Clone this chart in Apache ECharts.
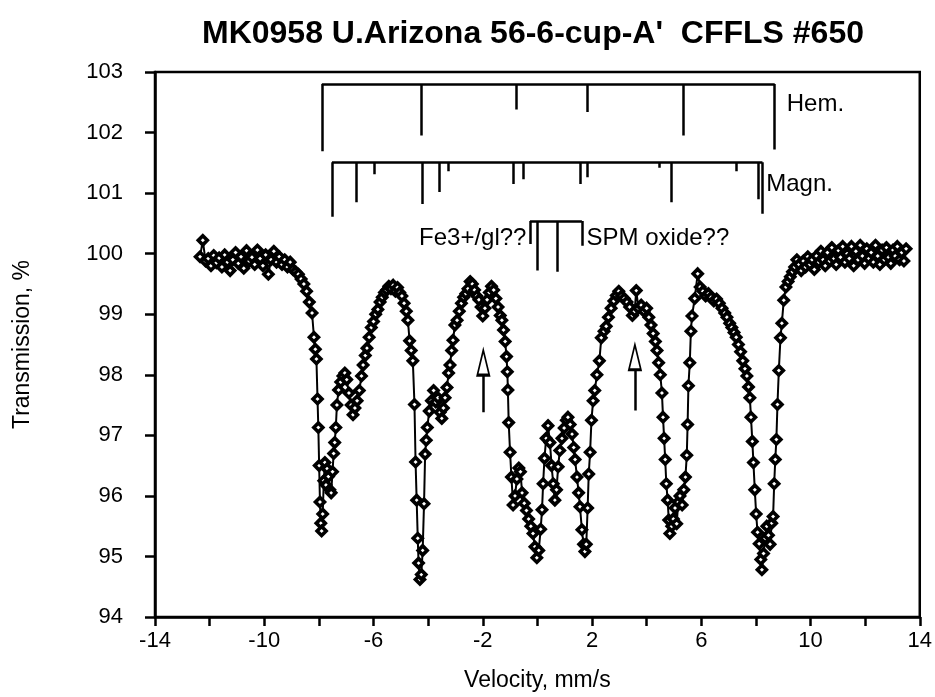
<!DOCTYPE html>
<html>
<head>
<meta charset="utf-8">
<script src="https://cdn.jsdelivr.net/npm/echarts@6/dist/echarts.min.js"></script>
<style>
  html, body { margin: 0; padding: 0; background: #fff; }
  #chart { width: 935px; height: 697px; }
</style>
</head>
<body>
<div id="chart"></div>
<script>
// velocity (mm/s), transmission (%), left to right
const baselineLeft = [
  [-12.35, 99.95], [-12.25, 100.22], [-12.15, 99.88], [-12.05, 99.92], [-11.95, 99.80],
  [-11.85, 99.97], [-11.75, 99.85], [-11.65, 99.93], [-11.55, 99.78], [-11.45, 99.98],
  [-11.35, 99.86], [-11.25, 99.72], [-11.15, 99.90], [-11.05, 100.02], [-10.95, 99.84],
  [-10.85, 99.95], [-10.75, 99.76], [-10.65, 100.05], [-10.55, 99.88], [-10.45, 99.94],
  [-10.35, 99.82], [-10.25, 100.06], [-10.15, 99.92], [-10.05, 99.80], [-9.95, 99.98],
  [-9.85, 99.66], [-9.75, 99.90], [-9.65, 100.04], [-9.55, 99.86], [-9.45, 99.95],
  [-9.35, 99.82], [-9.25, 99.90], [-9.15, 99.78], [-9.05, 99.86], [-8.95, 99.74],
  [-8.85, 99.70], [-8.75, 99.66], [-8.65, 99.58], [-8.55, 99.50], [-8.45, 99.38]
]
const leftPeaks = [
  [-8.35, 99.20], [-8.25, 99.02], [-8.18, 98.62], [-8.13, 98.42], [-8.09, 98.26],
  [-8.05, 97.60], [-8.02, 97.13], [-7.99, 96.50], [-7.96, 95.90], [-7.93, 95.55],
  [-7.90, 95.42], [-7.86, 95.70], [-7.82, 96.25], [-7.78, 96.55], [-7.74, 96.18],
  [-7.70, 96.45], [-7.65, 96.32], [-7.60, 96.10], [-7.55, 96.05], [-7.50, 96.40],
  [-7.46, 96.70], [-7.42, 96.88], [-7.38, 97.13], [-7.34, 97.50], [-7.28, 97.75],
  [-7.20, 97.88], [-7.12, 97.98], [-7.05, 98.03], [-6.98, 97.92], [-6.90, 97.70],
  [-6.82, 97.50], [-6.75, 97.34], [-6.68, 97.45], [-6.60, 97.57], [-6.52, 97.74],
  [-6.44, 97.98], [-6.38, 98.16], [-6.30, 98.32], [-6.24, 98.44], [-6.16, 98.62],
  [-6.08, 98.78], [-6.00, 98.88], [-5.92, 99.00], [-5.84, 99.08], [-5.76, 99.20],
  [-5.68, 99.28], [-5.60, 99.36], [-5.52, 99.40], [-5.44, 99.46], [-5.36, 99.42],
  [-5.28, 99.48], [-5.20, 99.38], [-5.12, 99.44], [-5.04, 99.36], [-4.96, 99.30],
  [-4.88, 99.18], [-4.80, 99.05], [-4.74, 98.90], [-4.68, 98.56], [-4.62, 98.40],
  [-4.56, 98.23], [-4.50, 97.51], [-4.46, 96.56], [-4.42, 95.93], [-4.38, 95.30],
  [-4.35, 94.89], [-4.30, 94.62], [-4.25, 94.70], [-4.20, 95.10], [-4.15, 95.87],
  [-4.11, 96.69], [-4.07, 96.92], [-4.03, 97.13], [-3.96, 97.40], [-3.88, 97.57],
  [-3.80, 97.74], [-3.72, 97.55], [-3.64, 97.62], [-3.56, 97.38], [-3.50, 97.28],
  [-3.44, 97.45], [-3.38, 97.62], [-3.31, 97.79], [-3.25, 98.03], [-3.20, 98.16],
  [-3.14, 98.40], [-3.09, 98.57], [-3.02, 98.82], [-2.94, 98.90], [-2.86, 99.05],
  [-2.78, 99.18], [-2.70, 99.28], [-2.62, 99.34], [-2.54, 99.42], [-2.46, 99.54],
  [-2.38, 99.50], [-2.30, 99.40], [-2.22, 99.30], [-2.14, 99.24], [-2.06, 99.12],
  [-2.00, 98.97], [-1.92, 99.10], [-1.84, 99.24], [-1.76, 99.36], [-1.68, 99.46],
  [-1.60, 99.40], [-1.52, 99.26], [-1.44, 99.12], [-1.36, 98.98], [-1.30, 98.90],
  [-1.24, 98.74], [-1.18, 98.55], [-1.13, 98.30], [-1.10, 98.05], [-1.08, 97.75]
]
const centrePeaks = [
  [-1.05, 97.21], [-1.00, 96.72], [-0.95, 96.31], [-0.89, 95.85], [-0.82, 96.00],
  [-0.75, 96.28], [-0.68, 96.46], [-0.62, 96.40], [-0.56, 96.05], [-0.48, 95.88],
  [-0.40, 95.76], [-0.32, 95.62], [-0.24, 95.50], [-0.16, 95.38], [-0.09, 95.16],
  [-0.02, 94.98], [0.05, 95.10], [0.12, 95.45], [0.17, 95.77], [0.21, 96.20],
  [0.26, 96.62], [0.32, 96.95], [0.39, 97.16], [0.46, 96.88], [0.52, 96.50],
  [0.58, 96.20], [0.64, 95.93], [0.70, 96.10], [0.76, 96.48], [0.82, 96.75],
  [0.90, 96.95], [0.98, 97.12], [1.06, 97.25], [1.12, 97.30], [1.20, 97.18],
  [1.27, 97.02], [1.33, 96.80], [1.38, 96.60], [1.45, 96.31], [1.51, 96.05],
  [1.56, 95.82], [1.63, 95.44], [1.69, 95.20], [1.74, 95.08], [1.79, 95.20],
  [1.84, 95.80], [1.88, 96.36], [1.93, 96.72], [1.98, 97.25], [2.04, 97.57]
]
const rightPeaks = [
  [2.10, 97.74], [2.18, 98.00], [2.27, 98.23], [2.34, 98.61], [2.44, 98.72],
  [2.52, 98.80], [2.60, 98.95], [2.70, 99.10], [2.80, 99.22], [2.89, 99.31],
  [2.98, 99.38], [3.08, 99.30], [3.18, 99.26], [3.28, 99.20], [3.38, 99.12],
  [3.48, 98.98], [3.56, 99.05], [3.62, 99.39], [3.70, 99.10], [3.80, 99.15],
  [3.90, 99.05], [4.00, 99.10], [4.08, 98.95], [4.16, 98.82], [4.24, 98.68],
  [4.32, 98.55], [4.38, 98.40], [4.44, 98.20], [4.50, 98.00], [4.56, 97.70],
  [4.60, 97.30], [4.64, 96.95], [4.68, 96.60], [4.72, 96.20], [4.77, 95.93],
  [4.81, 95.60], [4.85, 95.38], [4.92, 95.50], [4.98, 95.62], [5.04, 95.80],
  [5.10, 95.54], [5.16, 95.90], [5.22, 96.00], [5.30, 95.85], [5.36, 96.10],
  [5.42, 96.31], [5.47, 96.67], [5.50, 97.18], [5.53, 97.82], [5.58, 98.20],
  [5.62, 98.72], [5.66, 98.97], [5.76, 99.26], [5.87, 99.67], [5.96, 99.45],
  [6.06, 99.38], [6.16, 99.30], [6.26, 99.34], [6.36, 99.28], [6.46, 99.22],
  [6.56, 99.25], [6.66, 99.18], [6.76, 99.10], [6.86, 99.02], [6.94, 98.95],
  [7.04, 98.85], [7.12, 98.78], [7.20, 98.70], [7.28, 98.62], [7.36, 98.50],
  [7.44, 98.38], [7.52, 98.23], [7.60, 98.10], [7.67, 97.98], [7.73, 97.80],
  [7.78, 97.62], [7.82, 97.30], [7.87, 96.90], [7.91, 96.55], [7.96, 96.10],
  [8.01, 95.70], [8.06, 95.40], [8.12, 95.21], [8.18, 94.95], [8.22, 94.78],
  [8.28, 95.05], [8.34, 95.30], [8.40, 95.50], [8.46, 95.35], [8.52, 95.20],
  [8.58, 95.55], [8.63, 95.66], [8.67, 96.20], [8.71, 96.60], [8.75, 96.93],
  [8.79, 97.51], [8.84, 98.07], [8.90, 98.61], [8.95, 98.85], [9.02, 99.23]
]
const baselineRight = [
  [9.10, 99.45], [9.18, 99.54], [9.26, 99.62], [9.34, 99.70], [9.42, 99.78],
  [9.50, 99.90], [9.58, 99.82], [9.66, 99.72], [9.74, 99.88], [9.82, 99.78],
  [9.90, 99.95], [9.98, 99.82], [10.06, 99.90], [10.14, 99.74], [10.22, 99.96],
  [10.30, 99.86], [10.38, 100.04], [10.46, 99.90], [10.54, 99.80], [10.62, 100.02],
  [10.70, 99.88], [10.78, 100.10], [10.86, 99.92], [10.94, 99.82], [11.02, 100.05],
  [11.10, 99.94], [11.18, 100.12], [11.26, 99.86], [11.34, 100.00], [11.42, 99.92],
  [11.50, 100.12], [11.58, 99.80], [11.66, 100.04], [11.74, 99.90], [11.82, 100.14],
  [11.90, 99.96], [11.98, 99.84], [12.06, 100.08], [12.14, 99.92], [12.22, 100.02],
  [12.30, 99.86], [12.38, 100.14], [12.46, 99.96], [12.54, 99.82], [12.62, 100.06],
  [12.70, 99.90], [12.78, 100.10], [12.86, 99.94], [12.94, 99.84], [13.02, 100.06],
  [13.10, 99.96], [13.18, 100.12], [13.26, 99.90], [13.34, 100.02], [13.42, 99.88],
  [13.50, 100.08]
]
const spectrum = [...baselineLeft, ...leftPeaks, ...centrePeaks, ...rightPeaks, ...baselineRight]

// stick diagrams: bracket top level, then [velocity, stick bottom]
const hemTop = 102.8
const hemSticks = [[-7.89, 101.69], [-4.26, 101.95], [-0.79, 102.38], [1.81, 102.34], [5.33, 101.95], [8.69, 101.72]]
const magnTop = 101.51
const magnSticks = [
  [-7.52, 100.61], [-6.64, 100.85], [-5.98, 101.31], [-4.23, 100.82], [-3.6, 101.02],
  [-3.28, 101.36], [-0.9, 101.15], [-0.53, 101.23], [1.56, 101.15], [1.81, 101.26],
  [4.45, 101.42], [4.89, 100.85], [7.27, 101.36], [8.07, 100.9], [8.24, 100.66]
]
const doubletTop = 100.54
const doubletSticks = [[-0.27, 100.16], [0.0, 99.72], [0.72, 99.7], [1.63, 100.13]]

// labels: [velocity, transmission, text]
const rightLabels = [[9.13, 102.46, 'Hem.'], [8.38, 101.15, 'Magn.'], [1.8, 100.25, 'SPM oxide??']]
const leftLabels = [[-0.4, 100.25, 'Fe3+/gl??']]

// arrows: velocity, shaft bottom, shaft top, head centre
const arrows = [[-1.98, 97.38, 98.0, 98.2], [3.57, 97.41, 98.08, 98.29]]

const xTicks = { min: -14, max: 14, step: 2, labelStep: 4 }
const yTicks = { min: 94, max: 103, step: 1 }

const bracketLines = (top, sticks) => {
  const xs = sticks.map((s) => s[0])
  const out = [{ coords: [[Math.min(...xs), top], [Math.max(...xs), top]] }]
  sticks.forEach((s) => out.push({ coords: [[s[0], top], [s[0], s[1]]] }))
  return out
}

const font = '"Liberation Sans", Arial, sans-serif'
const chart = echarts.init(document.getElementById('chart'))

const textLabel = (position) => ({
  type: 'scatter',
  symbolSize: 0,
  itemStyle: { opacity: 1 },
  label: {
    show: true, position, distance: 0,
    formatter: (p) => p.data[2],
    color: '#000', fontSize: 24, fontFamily: font,
  },
})

chart.setOption({
  animation: false,
  backgroundColor: '#fff',
  graphic: [{
    type: 'text',
    x: 533,
    y: 34,
    style: {
      text: "MK0958 U.Arizona 56-6-cup-A'  CFFLS #650",
      font: 'bold 32px ' + font,
      fill: '#000',
      textAlign: 'center',
      textVerticalAlign: 'middle',
    },
  }],
  grid: {
    left: 155, right: 15, top: 72, bottom: 76,
    show: true, borderColor: '#000', borderWidth: 2.5, backgroundColor: 'transparent',
  },
  xAxis: {
    type: 'value',
    min: xTicks.min, max: xTicks.max, interval: xTicks.step,
    name: 'Velocity, mm/s',
    nameLocation: 'middle',
    nameGap: 52,
    nameTextStyle: { color: '#000', fontSize: 23, fontFamily: font },
    axisLine: { onZero: false, lineStyle: { color: '#000', width: 2.5 } },
    axisTick: { length: 9, lineStyle: { color: '#000', width: 2.5 } },
    axisLabel: {
      color: '#000', fontSize: 22, fontFamily: font, margin: 13,
      formatter: (v) => ((v - xTicks.min) % xTicks.labelStep === 0 ? String(v) : ''),
    },
    splitLine: { show: false },
  },
  yAxis: {
    type: 'value',
    min: yTicks.min, max: yTicks.max, interval: yTicks.step,
    name: 'Transmission, %',
    nameLocation: 'middle',
    nameGap: 121,
    nameTextStyle: { color: '#000', fontSize: 23, fontFamily: font },
    axisLine: { onZero: false, lineStyle: { color: '#000', width: 2.5 } },
    axisTick: { length: 10, lineStyle: { color: '#000', width: 2.5 } },
    axisLabel: { color: '#000', fontSize: 22, fontFamily: font, margin: 32 },
    splitLine: { show: false },
  },
  series: [
    {
      type: 'line',
      data: spectrum,
      showAllSymbol: true,
      symbol: 'diamond',
      symbolSize: 9,
      lineStyle: { color: '#000', width: 2 },
      itemStyle: { color: '#fff', borderColor: '#000', borderWidth: 3.6 },
      z: 3,
    },
    {
      type: 'lines',
      coordinateSystem: 'cartesian2d',
      data: [
        ...bracketLines(hemTop, hemSticks),
        ...bracketLines(magnTop, magnSticks),
        ...bracketLines(doubletTop, doubletSticks),
        ...arrows.map((a) => ({ coords: [[a[0], a[1]], [a[0], a[2]]] })),
      ],
      lineStyle: { color: '#000', width: 2.5, opacity: 1 },
      silent: true,
    },
    {
      type: 'scatter',
      data: arrows.map((a) => [a[0], a[3]]),
      symbol: 'triangle',
      symbolSize: [12, 25],
      itemStyle: { color: '#fff', borderColor: '#000', borderWidth: 2.2, opacity: 1 },
      z: 4,
    },
    { ...textLabel('right'), data: rightLabels },
    { ...textLabel('left'), data: leftLabels },
  ],
})
</script>
</body>
</html>
